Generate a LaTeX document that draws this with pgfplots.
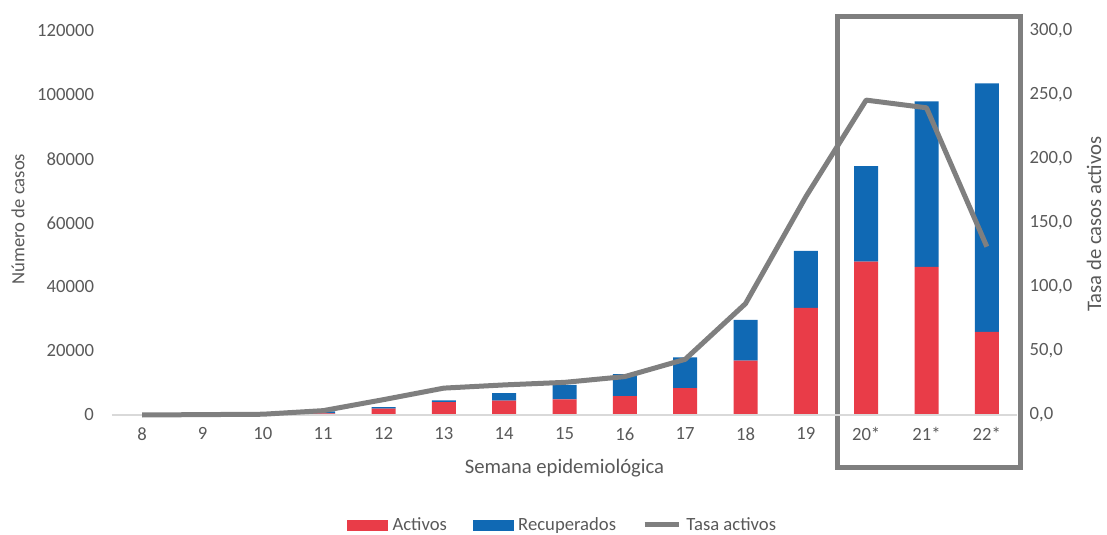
\documentclass[border=0pt]{standalone}
\usepackage{fontspec}
\setmainfont{Carlito}
\usepackage{pgfplots}
\pgfplotsset{compat=1.18}
\definecolor{activ}{HTML}{E93C48}
\definecolor{recup}{HTML}{1069B4}
\definecolor{tasa}{HTML}{7F7F7F}
\definecolor{txt}{HTML}{595959}
\definecolor{base}{HTML}{D9D9D9}
\begin{document}
\begin{tikzpicture}
\path[use as bounding box] (-84pt,-90pt) rectangle (746.25pt,311.25pt);
\begin{axis}[
  at={(0pt,0pt)}, anchor=south west,
  width=678.75pt, height=288pt, scale only axis,
  xmin=-0.5, xmax=14.5, ymin=0, ymax=120000,
  ybar stacked, bar width=18pt,
  axis line style={draw=none},
  tick style={draw=none},
  clip=false,
  xtick={0,...,14},
  xticklabels={8,9,10,11,12,13,14,15,16,17,18,19,20*,21*,22*},
  ytick={0,20000,...,120000},
  scaled y ticks=false,
  yticklabel style={/pgf/number format/fixed, /pgf/number format/precision=0, /pgf/number format/set thousands separator={}, /pgf/number format/assume math mode=true, xshift=-10pt},
  ticklabel style={font=\fontsize{14}{16}\selectfont, text=txt},
  xticklabel style={yshift=-6pt},
  xlabel={Semana epidemiológica},
  ylabel={Número de casos},
  label style={font=\fontsize{14}{16}\selectfont, text=txt},
  xlabel style={font=\fontsize{15.5}{17}\selectfont, at={(axis description cs:0.5,-0.138)}, anchor=center},
  ylabel style={at={(axis description cs:-0.104,0.51)}, anchor=center, rotate=0},
]
\draw[base, line width=0.8pt] (axis cs:-0.5,0) -- (axis cs:14.5,0);
\addplot[fill=activ, draw=none] coordinates {
(0,0) (1,50) (2,100) (3,500) (4,2000) (5,4000) (6,4500) (7,4900) (8,5900) (9,8400) (10,17000) (11,33500) (12,47900) (13,46300) (14,26000)};
\addplot[fill=recup, draw=none] coordinates {
(0,0) (1,0) (2,50) (3,600) (4,450) (5,600) (6,2300) (7,4500) (8,6900) (9,9600) (10,12700) (11,17800) (12,29900) (13,51700) (14,77600)};
\draw[tasa, line width=3.75pt] (axis cs:11.53,124500) rectangle (axis cs:14.55,-16560);
\end{axis}
\begin{axis}[
  at={(0pt,0pt)}, anchor=south west,
  width=678.75pt, height=288pt, scale only axis,
  xmin=-0.5, xmax=14.5, ymin=0, ymax=300,
  axis x line=none,
  axis y line*=right,
  axis line style={draw=none},
  tick style={draw=none},
  clip=false,
  ytick={0,50,...,300},
  yticklabel style={/pgf/number format/fixed, /pgf/number format/fixed zerofill, /pgf/number format/precision=1, /pgf/number format/use comma, /pgf/number format/assume math mode=true, font=\fontsize{14}{16}\selectfont, text=txt, xshift=6pt},
  ylabel={Tasa de casos activos},
  ylabel style={font=\fontsize{15.5}{17}\selectfont, text=txt, at={(axis description cs:1.085,0.497)}, anchor=center, rotate=0},
  legend columns=3,
  legend style={at={(axis description cs:0.4995,-0.286)}, anchor=center, draw=none, fill=none,
    font=\fontsize{14}{16}\selectfont, text=txt,
    /tikz/every even column/.append style={column sep=16pt},
    nodes={inner xsep=3.5pt}},
]
\addlegendimage{legend image code/.code={\fill[activ] (0pt,-3.75pt) rectangle (30pt,3.75pt);}}
\addlegendentry{Activos}
\addlegendimage{legend image code/.code={\fill[recup] (0pt,-3.75pt) rectangle (30pt,3.75pt);}}
\addlegendentry{Recuperados}
\addlegendimage{legend image code/.code={\draw[tasa, line width=3.75pt] (0pt,0pt) -- (26pt,0pt);}}
\addlegendentry{Tasa activos}
\addplot[tasa, line width=3.75pt, line join=round, mark=none, forget plot] coordinates {
(0,0) (1,0.3) (2,0.6) (3,3.4) (4,12) (5,21) (6,23.5) (7,25.5) (8,30) (9,43.5) (10,87) (11,170.5) (12,246) (13,240) (14,131.5)};
\end{axis}
\end{tikzpicture}
\end{document}
